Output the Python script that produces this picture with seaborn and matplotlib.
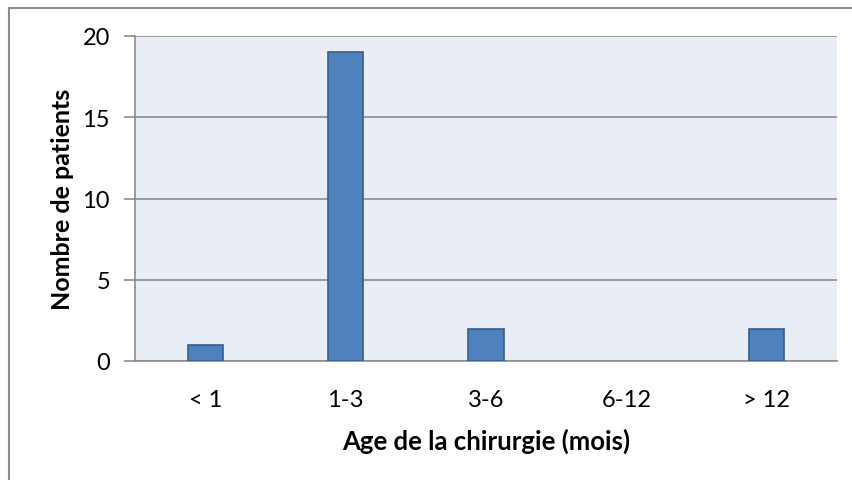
import matplotlib
matplotlib.use("Agg")
import matplotlib.pyplot as plt
import seaborn as sns
import pandas as pd
from matplotlib.lines import Line2D

categories = ["< 1", "1-3", "3-6", "6-12", "> 12"]
patients = [1, 19, 2, 0, 2]
y_ticks = [0, 5, 10, 15, 20]

sns.set_theme(style="white")
plt.rcParams['font.family'] = ['Lato', 'DejaVu Sans']

df = pd.DataFrame({"cat": categories, "n": patients})

fig = plt.figure(figsize=(8.53, 4.81), dpi=100)
ax = fig.add_axes([135/853, 1 - 362/481, (837-135)/853, (362-37)/481])
ax.set_facecolor("#E9EDF5")

sns.barplot(data=df, x="cat", y="n", ax=ax, width=0.25, color="#4F81BD",
            edgecolor="#385D8A", linewidth=1.2, saturation=1, zorder=3)
for p in ax.patches:
    if p.get_height() == 0:
        p.set_visible(False)

ax.set_ylim(0, 20)
ax.set_xlim(-0.5, 4.5)
ax.set_yticks(y_ticks)
ax.yaxis.grid(True, color="#8C8C8C", linewidth=1.2, zorder=0)
ax.set_axisbelow(True)
for s in ["top", "right"]:
    ax.spines[s].set_visible(False)
for s in ["left", "bottom"]:
    ax.spines[s].set_color("#8C8C8C")
    ax.spines[s].set_linewidth(1.2)
ax.tick_params(axis="y", which="both", left=True, length=8, width=1.2, color="#8C8C8C",
               labelsize=17, pad=10, labelcolor="black")
ax.tick_params(axis="x", bottom=False, labelsize=17, pad=14, labelcolor="black")

ax.set_xlabel("Age de la chirurgie (mois)", fontsize=18.5, fontweight="bold", labelpad=13,
              color="black")
ax.set_ylabel("Nombre de patients", fontsize=18, fontweight="bold", labelpad=6,
              color="black")

# outer chart border
fig.add_artist(Line2D([8.5/853, 8.5/853], [0, 1 - 8.5/481], transform=fig.transFigure,
                      color="#8C8C8C", linewidth=1.5))
fig.add_artist(Line2D([8.5/853, 1], [1 - 8.5/481, 1 - 8.5/481], transform=fig.transFigure,
                      color="#8C8C8C", linewidth=1.5))

fig.savefig("out.png", dpi=100)
